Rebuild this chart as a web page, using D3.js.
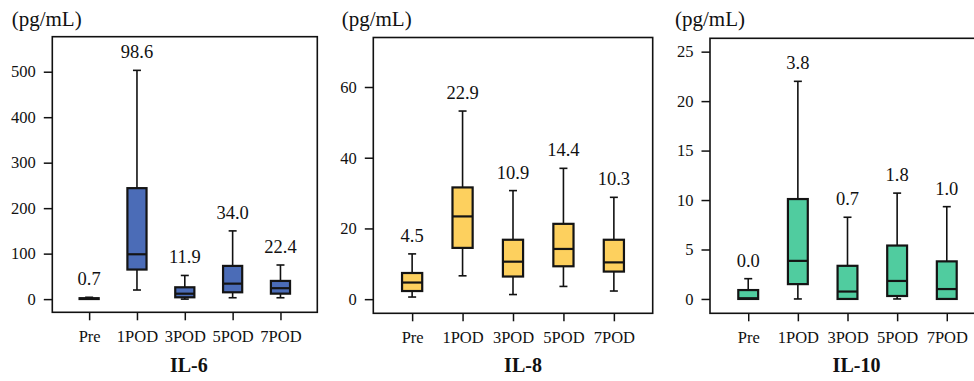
<!DOCTYPE html>
<html>
<head>
<meta charset="utf-8">
<script src="https://cdn.jsdelivr.net/npm/d3@7"></script>
<style>
  html, body { margin: 0; padding: 0; background: #fff; }
  svg { display: block; }
  text { font-family: "Liberation Serif", "Times New Roman", serif; fill: #111; }
</style>
</head>
<body>
<svg id="chart" width="974" height="381"></svg>
<script>
// ---------------- data ----------------
const groups = ["Pre", "1POD", "3POD", "5POD", "7POD"];
const titles = ["IL-6", "IL-8", "IL-10"];
const unitLabel = "(pg/mL)";

// IL-6
const il6Min = [0, 20, 0, 3, 3];
const il6Q1  = [0.2, 65, 4, 15, 12];
const il6Med = [0.7, 98.6, 11.9, 34.0, 24];
const il6Q3  = [2, 244, 26, 73, 40];
const il6Max = [4, 503, 52, 150, 75];
const il6Labels = ["0.7", "98.6", "11.9", "34.0", "22.4"];
const il6Ticks = [0, 100, 200, 300, 400, 500];

// IL-8
const il8Min = [0.6, 6.6, 1.3, 3.6, 2.3];
const il8Q1  = [2.3, 14.5, 6.4, 9.3, 7.8];
const il8Med = [4.7, 23.4, 10.6, 14.2, 10.4];
const il8Q3  = [7.4, 31.6, 16.8, 21.3, 16.8];
const il8Max = [12.8, 53.2, 30.7, 37, 28.8];
const il8Labels = ["4.5", "22.9", "10.9", "14.4", "10.3"];
const il8Ticks = [0, 20, 40, 60];

// IL-10
const il10Min = [0, 0, 0, 0, 0];
const il10Q1  = [0, 1.5, 0, 0.3, 0];
const il10Med = [0.07, 3.85, 0.75, 1.82, 1.0];
const il10Q3  = [0.9, 10.1, 3.35, 5.4, 3.8];
const il10Max = [2.05, 22, 8.26, 10.7, 9.33];
const il10Labels = ["0.0", "3.8", "0.7", "1.8", "1.0"];
const il10Ticks = [0, 5, 10, 15, 20, 25];

const colors = ["#4b6cb7", "#fdd05e", "#50cc9f"];

// ---------------- layout ----------------
const panels = [
  { min: il6Min, q1: il6Q1, med: il6Med, q3: il6Q3, max: il6Max, labels: il6Labels, ticks: il6Ticks,
    left: 52.3, right: 317.3, top: 36.7, bottom: 312.3, domain: [-29, 577], unitX: 11.7, titleDx: 4 },
  { min: il8Min, q1: il8Q1, med: il8Med, q3: il8Q3, max: il8Max, labels: il8Labels, ticks: il8Ticks,
    left: 373.3, right: 652.7, top: 37.5, bottom: 313.3, domain: [-4, 74], unitX: 341.7, titleDx: 10 },
  { min: il10Min, q1: il10Q1, med: il10Med, q3: il10Q3, max: il10Max, labels: il10Labels, ticks: il10Ticks,
    left: 710, right: 985, top: 38.3, bottom: 313.3, domain: [-1.45, 26.35], unitX: 675, titleDx: 9 }
];

const svg = d3.select("#chart");

panels.forEach((p, pi) => {
  const g = svg.append("g");
  const x = d3.scalePoint().domain(groups).range([p.left, p.right]).padding(0.77);
  const y = d3.scaleLinear().domain(p.domain).range([p.bottom, p.top]);
  const step = x.step();
  const bw = step * 0.4;
  const cap = 8;

  // y axis
  const ya = g.append("g")
    .attr("transform", `translate(${p.left},0)`)
    .call(d3.axisLeft(y).tickValues(p.ticks).tickSize(8.5).tickPadding(8).tickFormat(d3.format("d")));
  ya.select(".domain").remove();
  ya.selectAll(".tick line").attr("stroke", "#111").attr("stroke-width", 1.5);
  ya.selectAll(".tick text").style("font-size", "16.5px").attr("fill", "#111")
    .style("font-family", '"Liberation Serif", serif');

  // x axis
  const xa = g.append("g")
    .attr("transform", `translate(0,${p.bottom})`)
    .call(d3.axisBottom(x).tickSize(8).tickPadding(10));
  xa.select(".domain").remove();
  xa.selectAll(".tick line").attr("stroke", "#111").attr("stroke-width", 1.5);
  xa.selectAll(".tick text").style("font-size", "16.5px").attr("fill", "#111")
    .style("font-family", '"Liberation Serif", serif');

  // frame
  g.append("rect")
    .attr("x", p.left).attr("y", p.top)
    .attr("width", p.right - p.left).attr("height", p.bottom - p.top)
    .attr("fill", "none").attr("stroke", "#111").attr("stroke-width", 1.6);

  const idx = d3.range(groups.length);
  const bx = g.append("g");

  // whiskers (vertical)
  bx.selectAll(".whisk").data(idx).join("line")
    .attr("x1", i => x(groups[i])).attr("x2", i => x(groups[i]))
    .attr("y1", i => y(p.max[i])).attr("y2", i => y(p.min[i]))
    .attr("stroke", "#111").attr("stroke-width", 1.6);
  // caps
  bx.selectAll(".capTop").data(idx).join("line")
    .attr("x1", i => x(groups[i]) - cap / 2).attr("x2", i => x(groups[i]) + cap / 2)
    .attr("y1", i => y(p.max[i])).attr("y2", i => y(p.max[i]))
    .attr("stroke", "#111").attr("stroke-width", 1.6);
  bx.selectAll(".capBot").data(idx).join("line")
    .attr("x1", i => x(groups[i]) - cap / 2).attr("x2", i => x(groups[i]) + cap / 2)
    .attr("y1", i => y(p.min[i])).attr("y2", i => y(p.min[i]))
    .attr("stroke", "#111").attr("stroke-width", 1.6);
  // boxes
  bx.selectAll(".box").data(idx).join("rect")
    .attr("x", i => x(groups[i]) - bw / 2)
    .attr("width", bw)
    .attr("y", i => y(p.q3[i]))
    .attr("height", i => Math.max(0.5, y(p.q1[i]) - y(p.q3[i])))
    .attr("fill", colors[pi]).attr("stroke", "#141414").attr("stroke-width", 2.2);
  // medians
  bx.selectAll(".med").data(idx).join("line")
    .attr("x1", i => x(groups[i]) - bw / 2).attr("x2", i => x(groups[i]) + bw / 2)
    .attr("y1", i => y(p.med[i])).attr("y2", i => y(p.med[i]))
    .attr("stroke", "#141414").attr("stroke-width", 2.2);
  // value labels
  bx.selectAll(".lab").data(idx).join("text")
    .attr("x", i => x(groups[i]))
    .attr("y", i => y(p.max[i]) - 12)
    .attr("text-anchor", "middle")
    .style("font-size", "18.5px")
    .text(i => p.labels[i]);

  // unit label
  g.append("text")
    .attr("x", p.unitX).attr("y", 26)
    .style("font-size", "21px")
    .text(unitLabel);

  // title
  g.append("text")
    .attr("x", x(groups[2]) + p.titleDx).attr("y", 372)
    .attr("text-anchor", "middle")
    .style("font-size", "20px").style("font-weight", "bold")
    .text(titles[pi]);
});
</script>
</body>
</html>
